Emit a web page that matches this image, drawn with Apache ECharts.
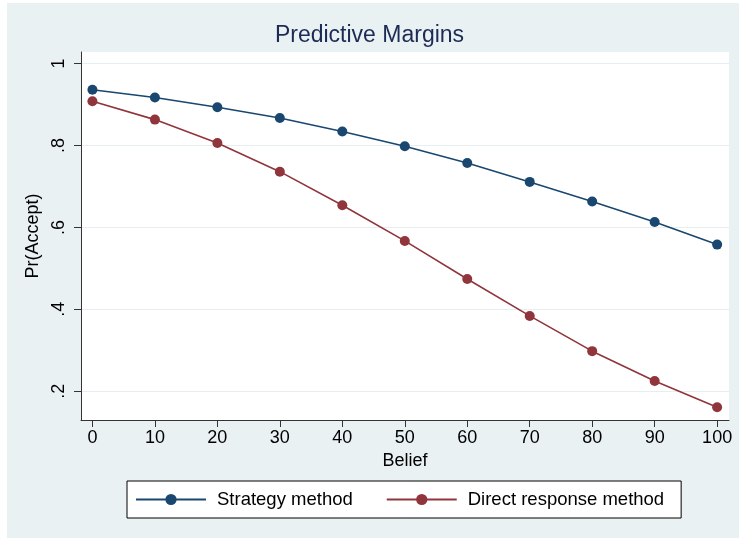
<!DOCTYPE html>
<html>
<head>
<meta charset="utf-8">
<script src="https://cdn.jsdelivr.net/npm/echarts@6/dist/echarts.min.js"></script>
<style>
  html, body { margin: 0; padding: 0; background: #fff; }
  #chart { width: 739px; height: 538px; }
</style>
</head>
<body>
<div id="chart"></div>
<script>
  // margins at each belief level
  var belief = [0, 10, 20, 30, 40, 50, 60, 70, 80, 90, 100]
  var strategy = [0.936, 0.917, 0.893, 0.867, 0.834, 0.798, 0.757, 0.711, 0.663, 0.613, 0.558]
  var direct = [0.908, 0.863, 0.806, 0.736, 0.654, 0.567, 0.474, 0.384, 0.298, 0.225, 0.161]
  var xTicks = [0, 10, 20, 30, 40, 50, 60, 70, 80, 90, 100]
  var yTicks = [0.2, 0.4, 0.6, 0.8, 1]

  var font = 'Liberation Sans, Arial, Helvetica, sans-serif'

  function pairs(ys) {
    return belief.map(function (b, i) { return [b, ys[i]] })
  }

  var chart = echarts.init(document.getElementById('chart'))
  chart.setOption({
    backgroundColor: '#fff',
    animation: false,
    graphic: {
      elements: [{
        type: 'rect', z: -100, silent: true,
        shape: { x: 7, y: 3, width: 732, height: 535 },
        style: { fill: '#eaf1f3' }
      }]
    },
    title: {
      text: 'Predictive Margins',
      left: 'center',
      top: 19,
      textStyle: { fontFamily: font, fontSize: 23, fontWeight: 'normal', color: '#1c2b55' }
    },
    grid: {
      left: 81, right: 10, top: 52, bottom: 118,
      show: true, backgroundColor: '#fff', borderWidth: 0
    },
    legend: {
      left: 127, top: 481,
      padding: [9, 17, 9, 8],
      backgroundColor: '#fff',
      borderColor: '#000',
      borderWidth: 1,
      borderRadius: 0,
      itemWidth: 70,
      itemHeight: 14,
      itemGap: 33,
      textStyle: { fontFamily: font, fontSize: 18.5, color: '#000', padding: [0, 0, 0, 6] },
      data: ['Strategy method', 'Direct response method']
    },
    xAxis: {
      type: 'value',
      min: -1.83,
      max: 101.9,
      name: 'Belief',
      nameLocation: 'middle',
      nameGap: 30,
      nameTextStyle: { fontFamily: font, fontSize: 18, color: '#000' },
      axisLine: { show: true, onZero: false, lineStyle: { color: '#333', width: 1 } },
      axisTick: { show: true, length: 7, customValues: xTicks, lineStyle: { color: '#333' } },
      axisLabel: { customValues: xTicks, margin: 9, fontFamily: font, fontSize: 18, color: '#000' },
      splitLine: { show: false }
    },
    yAxis: {
      type: 'value',
      min: 0.130,
      max: 1.028,
      name: 'Pr(Accept)',
      nameLocation: 'middle',
      nameGap: 35,
      nameTextStyle: { fontFamily: font, fontSize: 18, color: '#000' },
      axisLine: { show: true, onZero: false, lineStyle: { color: '#333', width: 1 } },
      axisTick: { show: true, length: 7, customValues: yTicks, lineStyle: { color: '#333' } },
      axisLabel: {
        customValues: yTicks, rotate: 90, margin: 13,
        fontFamily: font, fontSize: 18, color: '#000',
        formatter: function (v) {
          return v === 1 ? '1' : String(Math.round(v * 10) / 10).replace('0.', '.')
        }
      },
      splitLine: { show: true, lineStyle: { color: '#e6eef1', width: 1 } }
    },
    series: [{
      name: 'Strategy method',
      type: 'line',
      data: pairs(strategy),
      symbol: 'circle',
      symbolSize: 10,
      color: '#1a476f',
      lineStyle: { width: 1.6, color: '#1a476f' },
      itemStyle: { color: '#1a476f' }
    }, {
      name: 'Direct response method',
      type: 'line',
      data: pairs(direct),
      symbol: 'circle',
      symbolSize: 10,
      color: '#90353b',
      lineStyle: { width: 1.6, color: '#90353b' },
      itemStyle: { color: '#90353b' }
    }]
  })
</script>
</body>
</html>
